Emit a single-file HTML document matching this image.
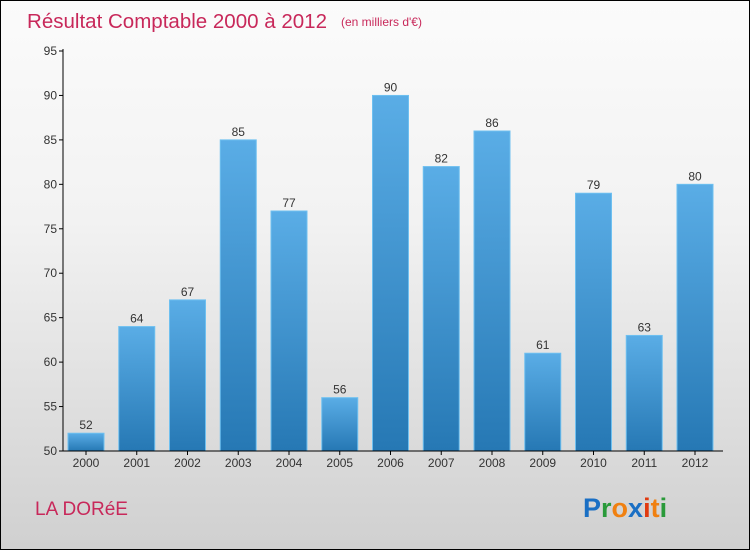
<!DOCTYPE html>
<html><head><meta charset="utf-8"><style>
body{margin:0;}
#c{position:relative;width:748px;height:548px;border:1px solid #000;background:linear-gradient(#fbfbfb 0%,#f2f2f2 40%,#d0d0d0 100%);overflow:hidden;font-family:"Liberation Sans",sans-serif;}
</style></head><body>
<div id="c">
<svg width="748" height="548">
<defs><linearGradient id="bg" x1="0" y1="0" x2="0" y2="1"><stop offset="0" stop-color="#5aade6"/><stop offset="1" stop-color="#2678b4"/></linearGradient></defs>
<text x="26" y="27" font-size="20" fill="#c8285a" textLength="300" lengthAdjust="spacingAndGlyphs">Résultat Comptable 2000 à 2012</text>
<text x="340" y="25" font-size="12" fill="#c8285a">(en milliers d'€)</text>
<g id="bars"></g><g id="axes"></g>
<text x="34" y="514" font-size="19" fill="#c8285a">LA DORéE</text>
<text x="582" y="516" font-size="27" font-weight="bold"><tspan fill="#1a6fc4">P</tspan><tspan fill="#2a9a3a">r</tspan><tspan fill="#f08010">o</tspan><tspan fill="#1a6fc4">x</tspan><tspan fill="#e03a10">i</tspan><tspan fill="#f08010">t</tspan><tspan fill="#2a9a3a">i</tspan></text>
</svg>
</div>
<script>
const years=["2000","2001","2002","2003","2004","2005","2006","2007","2008","2009","2010","2011","2012"];
const values=[52,64,67,85,77,56,90,82,86,61,79,63,80];
const ticks=[50,55,60,65,70,75,80,85,90,95];
const NS="http://www.w3.org/2000/svg";
const y=v=>450-(v-50)*400/45;
const x=i=>85+i*50.75;
function mk(t,a,p){const e=document.createElementNS(NS,t);for(const k in a)e.setAttribute(k,a[k]);p.appendChild(e);return e;}
const b=document.getElementById('bars'),ax=document.getElementById('axes');
ticks.forEach(t=>{
 const tk=mk('line',{x1:58,x2:62,y1:y(t),y2:y(t),stroke:'#000'},ax);
 
 
 const tx=mk('text',{x:56,y:y(t)+4,'font-size':12,'text-anchor':'end',fill:'#333'},ax);tx.textContent=t;
 
 
});
years.forEach((yr,i)=>{
 const r=mk('rect',{x:x(i)-18,y:y(values[i]),width:36,height:450-y(values[i]),fill:'url(#bg)',stroke:'#6ec0f0','stroke-width':1},b);
 
 
 const v=mk('text',{x:x(i),y:y(values[i])-4,'font-size':12,'text-anchor':'middle',fill:'#333'},b);v.textContent=values[i];
 
 
 const tk=mk('line',{x1:x(i),x2:x(i),y1:450,y2:454,stroke:'#000'},ax);
 
 
 const t=mk('text',{x:x(i),y:466,'font-size':12,'text-anchor':'middle',fill:'#333'},ax);t.textContent=yr;
 
 
});
const a1=mk('line',{x1:62,x2:62,y1:48,y2:450,stroke:'#000'},ax);


const a2=mk('line',{x1:62,x2:722,y1:450,y2:450,stroke:'#000'},ax);


</script>
</body></html>
